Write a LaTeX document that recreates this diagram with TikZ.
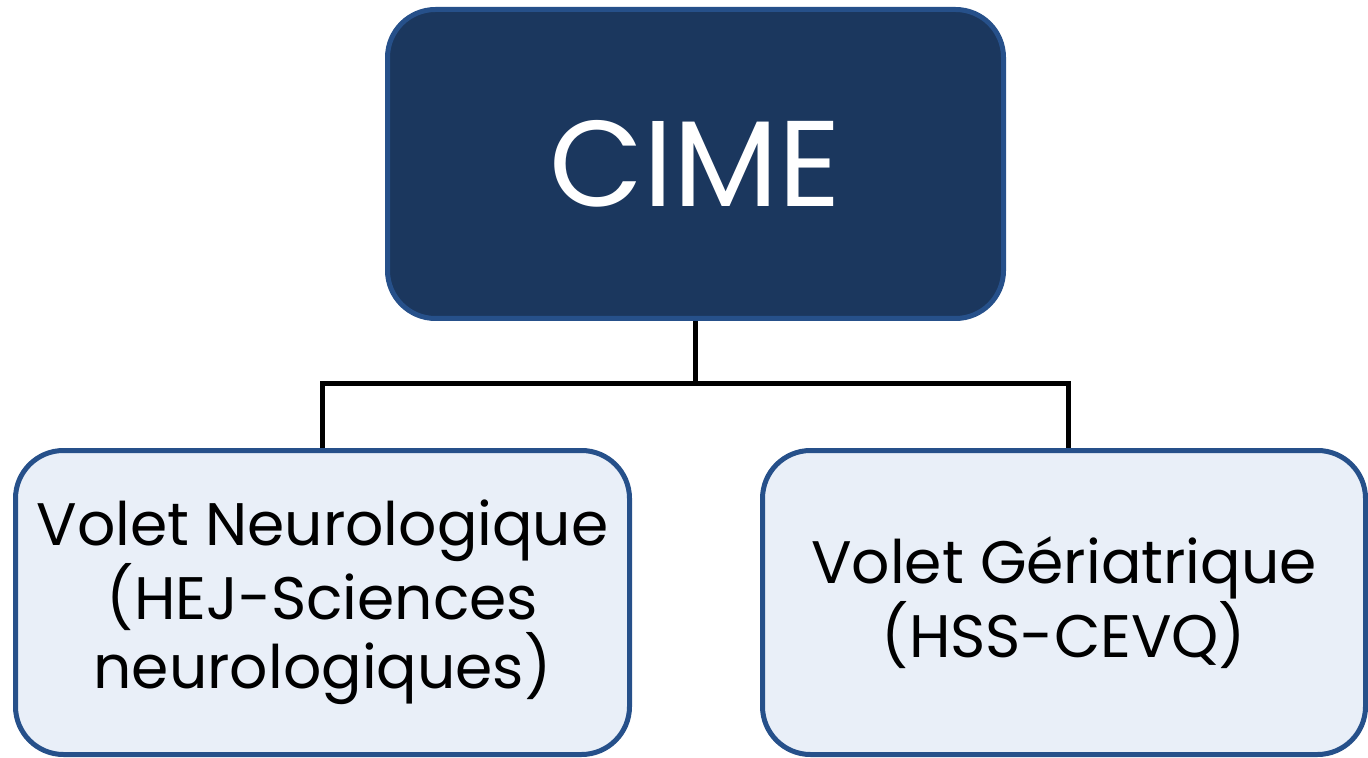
\documentclass[tikz,border=0pt]{standalone}
\usepackage{fontspec}
\setmainfont{Poppins}
\usetikzlibrary{positioning}

\definecolor{cimedark}{HTML}{1B375E}
\definecolor{cimeedge}{HTML}{26508A}
\definecolor{voletfill}{HTML}{E9EFF8}

\tikzset{
  topbox/.style={draw=cimeedge, fill=cimedark, line width=2.5pt, rounded corners=24pt,
    minimum width=308pt, minimum height=154.5pt, text=white, font=\fontsize{61}{63}\selectfont},
  voletbox/.style={draw=cimeedge, fill=voletfill, line width=2.5pt, rounded corners=24pt,
    minimum height=152pt, align=center, text=black, font=\fontsize{30}{33.5}\selectfont},
  link/.style={line width=2.5pt, black}
}

\begin{document}
\begin{tikzpicture}[x=0.5pt, y=-0.5pt]

  % Page frame
  \useasboundingbox (0,0) rectangle (1368,758);

  % Main box
  \node[topbox] (cime) at (695.5,164) {CIME};

  % Two branches
  \node[voletbox, minimum width=307pt] (neuro) at (322.5,602.5)
    {Volet Neurologique\\(HEJ-Sciences\\neurologiques)};
  \node[voletbox, minimum width=301.5pt] (geria) at (1064,602.5)
    {Volet Gériatrique\\(HSS-CEVQ)};

  % Connectors
  \coordinate (bus) at (696,384);
  \draw[link] (cime.south) -- (cime.south |- bus);
  \draw[link] (neuro.north) |- (cime.south |- bus) -| ([xshift=2pt]geria.north);

\end{tikzpicture}
\end{document}
